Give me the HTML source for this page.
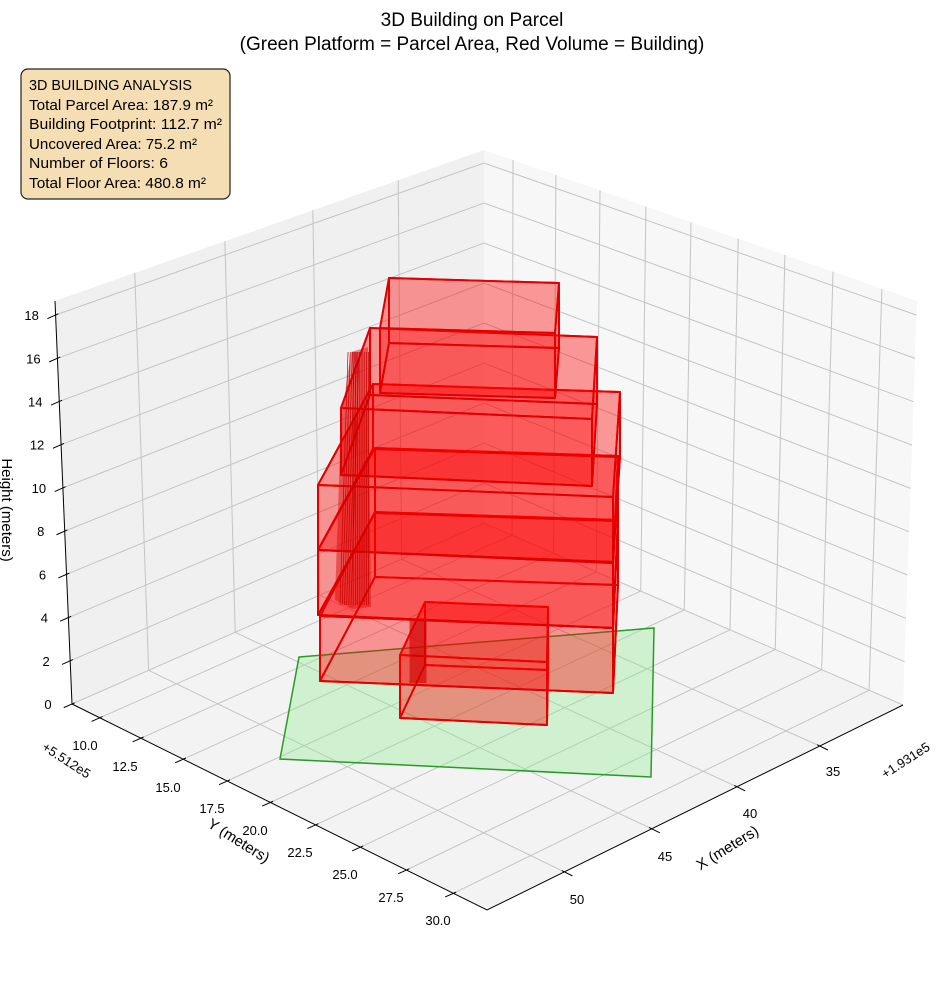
<!DOCTYPE html>
<html><head><meta charset="utf-8">
<style>
html,body{margin:0;padding:0;background:#fff;}
svg{display:block;font-family:"Liberation Sans","DejaVu Sans",sans-serif;}
</style></head>
<body>
<svg id="s" width="944" height="992" viewBox="0 0 944 992" xmlns="http://www.w3.org/2000/svg">
<rect width="944" height="992" fill="#fff"/>
<g id="panes"></g>
<g id="grid" stroke="#c4c4c4" stroke-width="1" fill="none"></g>
<polygon points="299,657 654,628 651,777 280,759" fill="rgba(144,238,144,0.35)" stroke="#2a9a2a" stroke-width="1.5"/>
<g id="bld"></g>
<g id="axes" stroke="#000" stroke-width="1" fill="none"></g>
<g id="labels" font-size="13" fill="#000"></g>
<text x="472" y="26" font-size="19" text-anchor="middle">3D Building on Parcel</text>
<text x="472" y="50" font-size="19" text-anchor="middle">(Green Platform = Parcel Area, Red Volume = Building)</text>
<rect x="21" y="69" width="209" height="130" rx="7" fill="#f5deb3" stroke="#222" stroke-width="1.2"/>
<g font-size="15" fill="#000">
<text x="29" y="90" textLength="163" lengthAdjust="spacingAndGlyphs">3D BUILDING ANALYSIS</text>
<text x="29" y="110" textLength="184" lengthAdjust="spacingAndGlyphs">Total Parcel Area: 187.9 m²</text>
<text x="29" y="129" textLength="193" lengthAdjust="spacingAndGlyphs">Building Footprint: 112.7 m²</text>
<text x="29" y="149" textLength="168" lengthAdjust="spacingAndGlyphs">Uncovered Area: 75.2 m²</text>
<text x="29" y="168" textLength="139" lengthAdjust="spacingAndGlyphs">Number of Floors: 6</text>
<text x="29" y="188" textLength="177" lengthAdjust="spacingAndGlyphs">Total Floor Area: 480.8 m²</text>
</g>
</svg>
<script>
(function(){
var NS="http://www.w3.org/2000/svg";
function el(p,tag,a,txt){var e=document.createElementNS(NS,tag);for(var k in a)e.setAttribute(k,a[k]);if(txt!==undefined)e.textContent=txt;document.getElementById(p).appendChild(e);return e;}
function lerp(P,Q,t){return [P[0]+(Q[0]-P[0])*t,P[1]+(Q[1]-P[1])*t];}
function pts(a){return a.map(function(p){return p[0].toFixed(1)+","+p[1].toFixed(1);}).join(" ");}
var L=[72,704],B=[484,523],R=[903,705],F=[487,910],Lt=[55,301],Bt=[484,150],Rt=[917,301];
el("panes","polygon",{points:pts([L,B,Bt,Lt]),fill:"#f0f0f0"});
el("panes","polygon",{points:pts([B,R,Rt,Bt]),fill:"#f7f7f7"});
el("panes","polygon",{points:pts([L,B,R,F]),fill:"#f3f3f3"});
var zmax=18.65;
for(var z=0;z<=18;z+=2){var f=z/zmax;
 el("grid","polyline",{points:pts([lerp(L,Lt,f),lerp(B,Bt,f),lerp(R,Rt,f)])});}
var tx=[0.186,0.396,0.601,0.8];
tx.forEach(function(t){el("grid","polyline",{points:pts([lerp(F,R,t),lerp(L,B,t),lerp(Lt,Bt,t)])});});
var ty=[0.067,0.166,0.268,0.374,0.478,0.587,0.695,0.806,0.919];
ty.forEach(function(t){el("grid","polyline",{points:pts([lerp(L,F,t),lerp(B,R,t),lerp(Bt,Rt,t)])});});
el("axes","polyline",{points:pts([Lt,L,F,R])});
var d=[-0.915,0.402];
for(z=0;z<=18;z+=2){var f=z/zmax,p=lerp(L,Lt,f);
 el("axes","line",{x1:p[0]-d[0]*3,y1:p[1]-d[1]*3,x2:p[0]+d[0]*9,y2:p[1]+d[1]*9});
 el("labels","text",{x:p[0]-24,y:p[1]+5,"text-anchor":"middle"},String(z));}
ty.forEach(function(t){var p=lerp(L,F,t);el("axes","line",{x1:p[0]-d[0]*3,y1:p[1]-d[1]*3,x2:p[0]+d[0]*9,y2:p[1]+d[1]*9});});
var dx=[0.896,0.445];
tx.forEach(function(t){var p=lerp(F,R,t);el("axes","line",{x1:p[0]-dx[0]*3,y1:p[1]-dx[1]*3,x2:p[0]+dx[0]*9,y2:p[1]+dx[1]*9});});
var yl=[["10.0",85,750],["12.5",125,771],["15.0",168,792],["17.5",212,813],["20.0",255,835],["22.5",300,857],["25.0",345,879],["27.5",391,902],["30.0",438,925]];
yl.forEach(function(a){el("labels","text",{x:a[1],y:a[2],"text-anchor":"middle"},a[0]);});
var xl=[["35",833,776],["40",750,818],["45",665,861],["50",577,904]];
xl.forEach(function(a){el("labels","text",{x:a[1],y:a[2],"text-anchor":"middle"},a[0]);});
el("labels","text",{x:0,y:0,"text-anchor":"middle",transform:"translate(64,764) rotate(33)"},"+5.512e5");
el("labels","text",{x:0,y:0,"text-anchor":"middle",transform:"translate(908,764) rotate(-33)"},"+1.931e5");
el("labels","text",{x:0,y:0,"text-anchor":"middle","font-size":"15",transform:"translate(236,845) rotate(32)"},"Y (meters)");
el("labels","text",{x:0,y:0,"text-anchor":"middle","font-size":"15",transform:"translate(730,852) rotate(-32)"},"X (meters)");
el("labels","text",{x:0,y:0,"text-anchor":"middle","font-size":"15",transform:"translate(2,510) rotate(90)"},"Height (meters)");
var floors=[
 [[425,602],[548,607],[547,662],[400,655],63],
 [[375,512],[618,520],[613,628],[320,616],65],
 [[375,448],[618,456],[613,563],[318,550],65],
 [[373,384],[620,392],[613,497],[318,485],65],
 [[370,328],[597,337],[592,419],[341,408],67],
 [[389,278],[559,283],[555,333],[380,328],65]];
var fill="rgba(255,0,0,0.22)",st="rgb(225,0,0)";
floors.forEach(function(fl,i){
 var bL=fl[0],bR=fl[1],fR=fl[2],fL=fl[3],h=fl[4];
 function dn(p){return [p[0],p[1]+h];}
 var faces=[[bL,bR,fR,fL],[dn(bL),dn(bR),dn(fR),dn(fL)],[bL,bR,dn(bR),dn(bL)],[fL,fR,dn(fR),dn(fL)],[bL,fL,dn(fL),dn(bL)],[bR,fR,dn(fR),dn(bR)]];
 faces.forEach(function(fc){el("bld","polygon",{points:pts(fc),fill:fill,stroke:st,"stroke-width":"1.9","stroke-linejoin":"round"});});
 if(i==4){
  el("bld","polygon",{points:pts([[351,352],[368,347],[371,607],[352,609],[335,600],[341,420]]),fill:"rgba(220,0,0,0.45)",stroke:"none"});
  for(var x=340;x<=369;x+=2.2)el("bld","line",{x1:x+(x<352?8:0),y1:352,x2:x,y2:605,stroke:"rgb(200,0,0)","stroke-width":"0.7"});
 }
});
el("bld","rect",{x:410,y:620,width:16,height:63,fill:"rgba(210,0,0,0.45)"});
for(var x=410;x<=426;x+=2)el("bld","line",{x1:x,y1:620,x2:x,y2:683,stroke:"rgb(200,0,0)","stroke-width":"0.6"});
})();
</script>
</body></html>
